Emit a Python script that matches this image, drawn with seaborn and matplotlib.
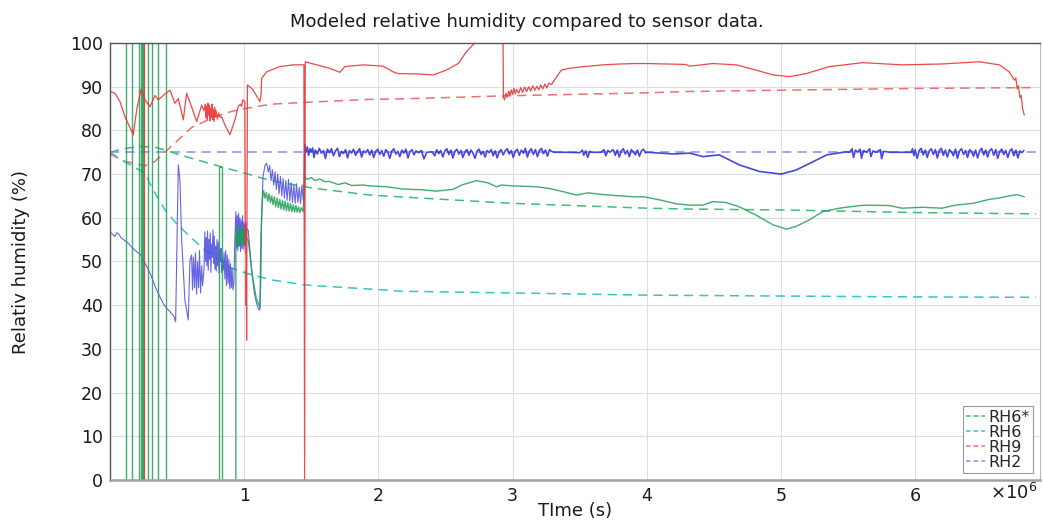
import numpy as np
import pandas as pd
import matplotlib
matplotlib.use("Agg")
import matplotlib.pyplot as plt
from matplotlib.lines import Line2D
import seaborn as sns

# ---------------- data (time in units of 1e6 s, RH in %) ----------------
# model curves (dashed)
m_rh6s_t = [0, 0.1, 0.21, 0.33, 0.41, 0.5, 0.61, 0.78, 1.005, 1.2, 1.51, 1.936, 2.16, 3.0, 4.0, 4.32, 5.0, 6.0, 6.9]
m_rh6s_v = [75, 75.8, 76.3, 76.2, 75.5, 74.6, 73.6, 72.1, 70.2, 68.5, 66.8, 65.2, 64.8, 63.3, 62.2, 62.0, 61.8, 61.2, 60.9]
m_rh6_t = [0, 0.11, 0.26, 0.32, 0.41, 0.5, 0.596, 0.7, 0.82, 0.894, 1.018, 1.2, 1.44, 1.514, 2.035, 2.16, 3.0, 4.0, 5.0, 6.0, 6.9]
m_rh6_v = [75, 72.8, 70.2, 66.4, 61.8, 58.5, 55.7, 52.8, 50.3, 48.6, 47.3, 45.8, 44.7, 44.5, 43.5, 43.2, 42.8, 42.3, 42.1, 41.9, 41.8]
m_rh9_t = [0, 0.1, 0.26, 0.33, 0.41, 0.5, 0.61, 0.78, 0.9, 1.005, 1.2, 1.51, 1.936, 2.16, 2.93, 4.0, 4.32, 5.0, 6.0, 6.9]
m_rh9_v = [74.6, 73.0, 71.9, 72.8, 75.0, 77.6, 80.7, 83.1, 84.3, 85.0, 86.0, 86.5, 87.1, 87.2, 87.9, 88.6, 88.9, 89.2, 89.6, 89.8]
m_rh2_t = [0, 6.9]
m_rh2_v = [75, 75]

# sensor RH6* (green)
s_rh6s_spike_t = [0.117, 0.162, 0.218, 0.228, 0.238, 0.248, 0.285, 0.31, 0.355, 0.415]
s_rh6s_a_t = [0.81, 0.81, 0.836, 0.836]
s_rh6s_a_v = [0, 71.7, 71.7, 0]
s_rh6s_b_t = [0.938, 0.938, 0.945, 0.95, 0.955, 0.96, 0.965, 0.97, 0.975, 0.98, 0.985, 0.99, 0.995, 1.0,
              1.005, 1.012, 1.02, 1.03, 1.06, 1.09, 1.117, 1.125, 1.135, 1.145, 1.155, 1.165, 1.175,
              1.185, 1.195, 1.205, 1.215, 1.225, 1.235, 1.245, 1.255, 1.265, 1.275, 1.285, 1.295, 1.305,
              1.315, 1.325, 1.335, 1.345, 1.355, 1.365, 1.375, 1.385, 1.395, 1.405, 1.415, 1.425, 1.44,
              1.452, 1.47, 1.5, 1.53, 1.56, 1.6, 1.638, 1.7, 1.75, 1.8, 1.886, 1.936, 2.06, 2.18, 2.33,
              2.43, 2.556, 2.62, 2.73, 2.817, 2.88, 2.917, 3.0, 3.18, 3.276, 3.375, 3.475, 3.56, 3.65,
              3.72, 3.9, 3.98, 4.095, 4.22, 4.32, 4.418, 4.49, 4.59, 4.69, 4.815, 4.94, 5.04, 5.11,
              5.21, 5.31, 5.435, 5.56, 5.634, 5.81, 5.9, 6.056, 6.2, 6.3, 6.43, 6.55, 6.62, 6.7, 6.76, 6.813]
s_rh6s_b_v = [0, 56, 54, 58, 53.5, 57.5, 54, 58, 53.8, 57.2, 54.5, 57.5, 54, 57,
              54.5, 56.5, 55, 55, 47, 41.5, 39.5, 56, 64, 66.2, 64.5, 65.8, 63.8,
              65.5, 63.5, 65, 63, 64.8, 62.5, 64.5, 62.3, 64.2, 62, 64, 61.8, 63.8,
              61.6, 63.5, 61.5, 63.3, 61.4, 63, 61.3, 62.8, 61.3, 62.5, 61.2, 62.3, 61.4,
              69.4, 68.8, 69.2, 68.5, 68.9, 68.3, 68.3, 67.6, 68.0, 67.4, 67.5, 67.3, 67.1, 66.6, 66.4,
              66.1, 66.5, 67.5, 68.5, 68.0, 67.1, 67.5, 67.3, 67.1, 66.7, 66.0, 65.2, 65.7, 65.4,
              65.2, 64.8, 64.8, 64.1, 63.2, 62.9, 62.9, 63.7, 63.5, 62.5, 60.6, 58.4, 57.4, 58.0,
              59.5, 61.4, 62.2, 62.7, 62.9, 62.8, 62.2, 62.4, 62.2, 62.9, 63.3, 64.2, 64.5, 65.0, 65.3, 64.8]

# sensor RH9 (red)
s_rh9_spike_t = [0.253]
s_rh9_t = [0, 0.037, 0.074, 0.112, 0.173, 0.199, 0.231, 0.261, 0.298, 0.335, 0.36, 0.397, 0.447, 0.484,
           0.509, 0.546, 0.571, 0.608, 0.646, 0.683, 0.70, 0.71, 0.715, 0.72, 0.725, 0.73, 0.735, 0.74,
           0.745, 0.75, 0.755, 0.76, 0.765, 0.77, 0.775, 0.78, 0.785, 0.79, 0.80, 0.81, 0.82, 0.832,
           0.86, 0.894, 0.91, 0.931, 0.955, 0.97, 0.98, 0.99, 1.005, 1.008, 1.010, 1.012, 1.014, 1.016,
           1.018, 1.021, 1.024, 1.06, 1.09, 1.117, 1.125, 1.13, 1.167, 1.266, 1.365, 1.445, 1.45, 1.455,
           1.54, 1.638, 1.713, 1.75, 1.886, 2.035, 2.11, 2.147, 2.308, 2.41, 2.507, 2.594, 2.656, 2.718,
           2.76, 2.9, 2.928, 2.932, 2.94, 2.95, 2.96, 2.97, 2.98, 2.99, 3.0, 3.01, 3.02, 3.03, 3.045,
           3.06, 3.075, 3.09, 3.105, 3.12, 3.135, 3.15, 3.165, 3.18, 3.195, 3.21, 3.225, 3.24, 3.255,
           3.27, 3.29, 3.33, 3.363, 3.425, 3.5, 3.6, 3.673, 3.8, 3.92, 4.0, 4.15, 4.29, 4.32, 4.49,
           4.666, 4.815, 4.94, 5.063, 5.187, 5.36, 5.609, 5.907, 6.2, 6.478, 6.627, 6.7, 6.74, 6.75,
           6.76, 6.77, 6.78, 6.79, 6.80, 6.813]
s_rh9_v = [88.9, 88.5, 86.6, 83.1, 79.0, 84.7, 89.4, 87.0, 85.4, 88.0, 87.0, 88.0, 89.2, 86.2,
           87.3, 82.4, 88.5, 85.4, 82.0, 85.8, 84.5, 86.0, 83.0, 85.5, 82.5, 86.2, 83.5, 85.8,
           82.2, 85.0, 83.0, 86.0, 82.5, 84.8, 82.0, 85.2, 83.2, 84.5, 82.6, 84.0, 83.0, 83.1,
           81.0, 79.0, 80.5, 82.4, 85.4, 86.0, 85.5, 87.0, 86.6, 61, 52, 59, 40, 48,
           32, 58, 90.4, 89.5, 88.0, 86.6, 88.0, 91.9, 93.4, 94.6, 95.0, 95.0, 0.0, 95.7,
           95.0, 94.2, 93.3, 94.6, 95.0, 94.7, 93.4, 93.0, 92.9, 92.7, 93.8, 95.3, 98.0, 100.0,
           103, 104, 103, 87.5, 87.0, 88.5, 87.6, 89.0, 88.0, 89.3, 88.2, 89.6, 88.4, 89.4, 88.5,
           89.8, 88.7, 89.9, 88.9, 90.0, 89.0, 90.2, 89.2, 90.1, 89.3, 90.4, 89.5, 90.6, 89.7,
           90.8, 90.5, 92.3, 93.8, 94.2, 94.5, 94.8, 95.0, 95.2, 95.3, 95.3, 95.2, 95.1, 94.7, 95.3,
           95.0, 93.8, 92.7, 92.3, 93.0, 94.6, 95.5, 95.0, 95.2, 95.7, 95.0, 93.4, 91.5, 92.0,
           89.5, 90.2, 87.5, 88.0, 85.0, 83.5]

# sensor RH2 (blue)
s_rh2_t = [0, 0.02, 0.037, 0.05, 0.062, 0.075, 0.087, 0.11, 0.136, 0.16, 0.186, 0.211, 0.23, 0.248,
           0.28, 0.31, 0.34, 0.372, 0.40, 0.422, 0.445, 0.459, 0.475, 0.489, 0.497, 0.509, 0.521,
           0.534, 0.558, 0.583, 0.596, 0.608, 0.615, 0.622, 0.63, 0.637, 0.645, 0.652, 0.66, 0.667,
           0.675, 0.683, 0.69, 0.70, 0.707, 0.712, 0.717, 0.722, 0.727, 0.732, 0.737, 0.742, 0.747,
           0.752, 0.757, 0.762, 0.767, 0.772, 0.777, 0.782, 0.787, 0.792, 0.797, 0.802, 0.807, 0.812,
           0.817, 0.822, 0.827, 0.832, 0.837, 0.844, 0.85, 0.856, 0.862, 0.868, 0.874, 0.88, 0.886,
           0.892, 0.898, 0.904, 0.91, 0.916, 0.923, 0.93, 0.938, 0.943, 0.948, 0.953, 0.958, 0.963,
           0.968, 0.973, 0.978, 0.983, 0.988, 0.993, 0.998, 1.003, 1.008, 1.013, 1.018, 1.03, 1.055,
           1.075, 1.092, 1.105, 1.117, 1.123, 1.13, 1.14, 1.155, 1.167, 1.18, 1.19, 1.2, 1.21, 1.22,
           1.23, 1.24, 1.25, 1.26, 1.27, 1.28, 1.29, 1.30, 1.31, 1.32, 1.33, 1.34, 1.35, 1.36, 1.37,
           1.38, 1.39, 1.40, 1.41, 1.42, 1.43, 1.44, 1.447]
s_rh2_v = [56.8, 56.2, 55.7, 56.6, 56.4, 55.8, 55.3, 54.8, 54.2, 53.3, 52.6, 51.9, 51.5, 50.3,
           48.5, 46.5, 44.0, 41.9, 40.2, 39.3, 38.6, 38.1, 37.5, 36.2, 50.0, 72.1, 68.6,
           54.9, 41.2, 36.6, 50.3, 51.5, 43.5, 51.0, 44.0, 52.0, 42.5, 50.0, 44.0, 52.5,
           42.8, 49.0, 44.5, 48.0, 56.8, 50.0, 55.5, 49.0, 57.0, 48.0, 55.0, 50.5, 56.5,
           47.5, 54.0, 51.0, 57.2, 49.5, 55.8, 48.2, 53.5, 47.8, 55.0, 49.0, 54.5, 47.4,
           52.5, 50.0, 53.0, 47.5, 51.0, 48.0, 52.0, 46.0, 52.5, 44.5, 51.5, 45.0, 50.5,
           43.8, 49.5, 44.0, 48.5, 43.5, 45.0, 55.0, 61.4, 53.0, 60.5, 52.5, 61.0, 53.5,
           60.0, 52.3, 59.5, 53.0, 60.5, 52.8, 59.0, 53.5, 58.5, 54.0, 57.5, 57.2, 48.0,
           43.0, 40.4, 39.2, 38.9, 45.0, 60.3, 69.4, 72.0, 72.5, 70.5, 72.0, 68.5, 71.0, 67.5,
           70.5, 66.5, 70.0, 65.5, 69.5, 65.0, 69.0, 64.5, 68.5, 64.0, 68.8, 63.8, 68.0, 63.5, 67.5,
           63.3, 67.8, 63.5, 67.0, 63.3, 67.5, 64.0, 66.5]
s_rh2_band_t = [1.447, 1.452, 1.46, 1.47, 1.48, 1.49, 1.50, 1.51, 1.52, 1.53, 1.545, 1.56, 1.575, 1.59,
                1.605, 1.62, 1.635, 1.65, 1.665, 1.68, 1.695, 1.71, 1.725, 1.74, 1.755, 1.77, 1.785,
                1.80, 1.815, 1.83, 1.845, 1.86, 1.875, 1.89, 1.905, 1.92, 1.935, 1.95, 1.965, 1.98,
                1.995, 2.01, 2.025, 2.04, 2.055, 2.07, 2.085, 2.10, 2.115, 2.13, 2.145, 2.16, 2.175,
                2.19, 2.205, 2.22, 2.235, 2.25, 2.265, 2.28, 2.30, 2.32, 2.34, 2.36, 2.40, 2.42,
                2.435, 2.45, 2.465, 2.48, 2.495, 2.51, 2.525, 2.54, 2.555, 2.57, 2.585, 2.60, 2.615,
                2.63, 2.645, 2.66, 2.675, 2.69, 2.705, 2.72, 2.735, 2.75, 2.765, 2.78, 2.795, 2.81,
                2.825, 2.84, 2.855, 2.87, 2.885, 2.90, 2.915, 2.93, 2.945, 2.96, 2.975, 2.99, 3.005,
                3.02, 3.035, 3.05, 3.065, 3.08, 3.095, 3.11, 3.125, 3.14, 3.155, 3.17, 3.185, 3.20,
                3.215, 3.23, 3.245, 3.26, 3.275, 3.29, 3.31, 3.40, 3.50, 3.52, 3.53, 3.545, 3.56,
                3.575, 3.59, 3.66, 3.68, 3.695, 3.71, 3.725, 3.75, 3.765, 3.78, 3.795, 3.81, 3.825,
                3.84, 3.855, 3.87, 3.885, 3.90, 3.915, 3.93, 3.945, 3.96, 3.975, 3.99, 4.0, 4.1, 4.2,
                4.32, 4.418, 4.54, 4.69, 4.84, 5.0, 5.11, 5.237, 5.34, 5.485, 5.51, 5.53, 5.54, 5.555,
                5.57, 5.59, 5.60, 5.615, 5.64, 5.66, 5.67, 5.685, 5.71, 5.74, 5.75, 5.765, 5.81, 5.97,
                5.98, 5.99, 6.0, 6.015, 6.03, 6.045, 6.06, 6.075, 6.09, 6.105, 6.12, 6.135, 6.15, 6.165,
                6.18, 6.195, 6.21, 6.225, 6.24, 6.255, 6.27, 6.285, 6.30, 6.315, 6.33, 6.345, 6.36,
                6.375, 6.39, 6.405, 6.42, 6.435, 6.45, 6.465, 6.48, 6.495, 6.51, 6.525, 6.54, 6.555,
                6.57, 6.585, 6.60, 6.615, 6.63, 6.645, 6.66, 6.675, 6.69, 6.705, 6.72, 6.735, 6.75,
                6.765, 6.78, 6.795, 6.81]
s_rh2_band_v = [66.5, 76.7, 75.0, 76.2, 74.3, 75.8, 75.1, 76.0, 73.8, 75.5, 74.6, 75.9, 74.8, 75.4,
                73.6, 75.7, 74.9, 75.8, 74.2, 75.3, 75.9, 74.0, 75.2, 74.7, 75.6, 73.7, 75.4,
                74.8, 75.7, 74.3, 75.2, 75.8, 73.9, 75.3, 74.9, 75.6, 74.4, 75.5, 73.8, 75.2,
                75.7, 74.5, 75.4, 74.1, 75.6, 75.0, 73.6, 75.3, 75.8, 74.6, 75.2, 74.0, 75.5,
                74.8, 75.7, 73.7, 75.1, 75.6, 74.4, 75.3, 74.9, 75.4, 73.5, 75.0, 75.1, 74.2,
                75.6, 74.7, 75.4, 73.9, 75.3, 75.8, 74.5, 75.5, 73.7, 75.2, 75.7, 74.6, 75.4,
                73.8, 75.1, 75.6, 74.3, 75.5, 74.8, 73.6, 75.3, 75.7, 74.5, 75.2, 73.9, 75.4,
                74.9, 75.6, 74.2, 75.3, 73.7, 75.1, 75.6, 74.4, 75.3, 75.8, 74.6, 75.4, 73.8,
                75.2, 75.7, 74.3, 75.5, 74.8, 75.9, 73.9, 75.3, 75.8, 74.5, 75.6, 74.0, 75.4,
                75.9, 74.7, 75.5, 74.1, 75.6, 75.2, 75.0, 75.0, 74.9, 75.5, 74.3, 75.3, 73.8,
                75.2, 75.0, 75.0, 75.6, 74.2, 75.4, 75.0, 75.6, 74.3, 75.5, 73.9, 75.3, 75.8,
                74.6, 75.4, 74.0, 75.6, 75.1, 74.4, 75.5, 74.1, 75.3, 75.7, 74.9, 75.0, 74.8, 74.6,
                74.8, 74.0, 74.4, 72.1, 70.6, 70.0, 70.9, 72.8, 74.4, 75.1, 75.0, 75.8, 73.8, 75.5,
                75.0, 75.7, 73.6, 75.4, 75.0, 75.8, 74.0, 75.3, 75.0, 75.6, 73.5, 75.2, 75.0, 75.0,
                75.8, 74.2, 75.6, 73.6, 75.4, 75.9, 74.4, 75.5, 73.8, 75.3, 75.8, 74.5, 75.6, 73.7,
                75.4, 75.9, 74.3, 75.5, 73.9, 75.6, 75.1, 74.2, 75.7, 73.6, 75.3, 75.8, 74.5,
                75.4, 73.8, 75.6, 75.2, 74.1, 75.5, 73.7, 75.3, 75.9, 74.4, 75.5, 73.9, 75.4,
                75.8, 74.3, 75.6, 73.6, 75.2, 75.7, 74.5, 75.4, 73.8, 75.3, 75.8, 74.2, 75.5,
                73.7, 75.3, 74.9, 75.4]

x_ticks = [1, 2, 3, 4, 5, 6]
y_ticks = list(range(0, 101, 10))
legend_labels = ["RH6*", "RH6", "RH9", "RH2"]

# ---------------- build tables ----------------
rows = []
seg_id = [0]

def add(kind, name, ts, vs):
    seg_id[0] += 1
    for t, v in zip(ts, vs):
        rows.append((kind, name, seg_id[0], t, v))

add("model", "RH6*", m_rh6s_t, m_rh6s_v)
add("model", "RH6", m_rh6_t, m_rh6_v)
add("model", "RH9", m_rh9_t, m_rh9_v)
add("model", "RH2", m_rh2_t, m_rh2_v)
add("sensor", "RH2", s_rh2_t, s_rh2_v)
add("band", "RH2", s_rh2_band_t, s_rh2_band_v)
for t in s_rh6s_spike_t:
    add("sensor", "RH6*", [t, t], [0, 100])
add("sensor", "RH6*", s_rh6s_a_t, s_rh6s_a_v)
add("sensor", "RH6*", s_rh6s_b_t, s_rh6s_b_v)
for t in s_rh9_spike_t:
    add("sensor", "RH9", [t, t], [0, 100])
add("sensor", "RH9", s_rh9_t, s_rh9_v)

df = pd.DataFrame(rows, columns=["kind", "name", "seg", "t", "rh"])

# ---------------- plot ----------------
sns.set_theme(style="whitegrid")
plt.rcParams["font.family"] = ["DejaVu Sans"]

fig = plt.figure(figsize=(10.43, 5.20), dpi=100)
ax = fig.add_axes([110 / 1043, 40 / 520, 930 / 1043, 437 / 520])

model_colors = {"RH6*": "#3cbf78", "RH6": "#33c6c6", "RH9": "#ec7070", "RH2": "#8a8aee"}
sensor_colors = {"RH6*": "#1f9e55", "RH9": "#ea3434", "RH2": "#3434dd"}

for name in ["RH2", "RH9", "RH6*", "RH6"]:
    sub = df[(df.kind == "model") & (df.name == name)]
    sns.lineplot(data=sub, x="t", y="rh", units="seg", estimator=None, sort=False,
                 color=model_colors[name], lw=1.1, linestyle=(0, (6, 4)),
                 legend=False, ax=ax)

sub = df[(df.kind == "sensor") & (df.name == "RH2")]
sns.lineplot(data=sub, x="t", y="rh", units="seg", estimator=None, sort=False,
             color="#4a4ae0", lw=0.8, alpha=0.85, legend=False, ax=ax)
sub = df[(df.kind == "band") & (df.name == "RH2")]
sns.lineplot(data=sub, x="t", y="rh", units="seg", estimator=None, sort=False,
             color=sensor_colors["RH2"], lw=1.2, alpha=0.9, legend=False, ax=ax)
sub = df[(df.kind == "sensor") & (df.name == "RH6*")]
sns.lineplot(data=sub, x="t", y="rh", units="seg", estimator=None, sort=False,
             color=sensor_colors["RH6*"], lw=1.0, alpha=0.85, legend=False, ax=ax)
sub = df[(df.kind == "sensor") & (df.name == "RH9")]
sns.lineplot(data=sub, x="t", y="rh", units="seg", estimator=None, sort=False,
             color=sensor_colors["RH9"], lw=0.9, alpha=0.9, legend=False, ax=ax)

ax.set_xlim(0, 6.93)
ax.set_ylim(0, 100)
ax.set_xticks(x_ticks)
ax.set_yticks(y_ticks)
ax.set_xticklabels([str(v) for v in x_ticks])
ax.set_facecolor("white")
ax.grid(True, color="#dedede", lw=0.8)
ax.tick_params(axis="both", direction="in", length=3, labelsize=12.5, colors="#333333",
               labelcolor="#1a1a1a", pad=5)
for side in ["left", "top"]:
    ax.spines[side].set_color("#555555")
    ax.spines[side].set_linewidth(1.0)
ax.spines["bottom"].set_color("#a0a0a0")
ax.spines["bottom"].set_linewidth(1.8)
ax.spines["right"].set_color("#bbbbbb")
ax.spines["right"].set_linewidth(0.8)

ax.set_xlabel("TIme (s)", fontsize=13, color="#1a1a1a")
ax.set_ylabel("Relativ humidity (%)", fontsize=13, color="#1a1a1a")
ax.xaxis.set_label_coords(0.5, -0.05)
ax.yaxis.set_label_coords(-0.086, 0.5)

fig.text(527 / 1043, 1 - 22 / 520, "Modeled relative humidity compared to sensor data.",
         ha="center", va="center", fontsize=13, color="#1a1a1a")
fig.text(1037 / 1043, 1 - 483 / 520, r"$\times10^6$", ha="right", va="top",
         fontsize=13, color="#1a1a1a")

handles = [Line2D([0], [0], color=model_colors[n], lw=1.1, linestyle=(0, (3, 2)))
           for n in legend_labels]
leg = ax.legend(handles, legend_labels, loc="lower right", fontsize=11.5,
                frameon=True, fancybox=False, edgecolor="#999999", framealpha=1,
                handlelength=1.2, handletextpad=0.2, labelspacing=0.0, borderpad=0.2,
                borderaxespad=0.45)
leg.get_frame().set_linewidth(0.8)

fig.savefig("out.png", dpi=100)
